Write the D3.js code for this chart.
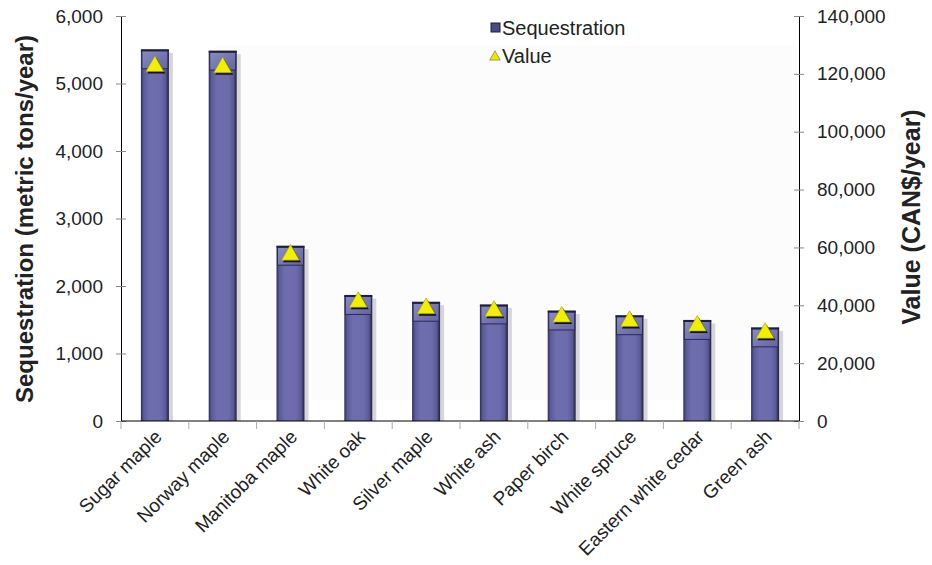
<!DOCTYPE html>
<html><head><meta charset="utf-8">
<script src="https://cdn.jsdelivr.net/npm/d3@7"></script>
<style>body{margin:0;background:#fff}svg{display:block;font-family:"Liberation Sans",Arial,sans-serif}</style>
</head><body><svg id="c" width="932" height="565"></svg>
<script>
const categories = ["Sugar maple","Norway maple","Manitoba maple","White oak","Silver maple","White ash","Paper birch","White spruce","Eastern white cedar","Green ash"];
const sequestration = [5500,5480,2590,1860,1760,1720,1630,1560,1490,1380];
const value = [122600,122200,57400,41100,38900,38000,36000,34500,32900,30400];
const leftTicks = [0,1000,2000,3000,4000,5000,6000];
const rightTicks = [0,20000,40000,60000,80000,100000,120000,140000];

const svg = d3.select("#c");
const L=121, R=799, T=16, B=421;
const x = d3.scaleBand().domain(categories).range([L,R]);
const yL = d3.scaleLinear().domain([0,6000]).range([B,T]);
const yR = d3.scaleLinear().domain([0,140000]).range([B,T]);
const fmt = d3.format(",");

const defs = svg.append("defs");
const g1 = defs.append("linearGradient").attr("id","barg");
[[0,"#2e2e58"],[0.1,"#5a5a9c"],[0.3,"#6e6eae"],[0.7,"#6c6cac"],[0.88,"#5a5a98"],[1,"#1e1e3c"]].forEach(s=>g1.append("stop").attr("offset",s[0]).attr("stop-color",s[1]));
const g2 = defs.append("linearGradient").attr("id","capg").attr("x1",0).attr("y1",0).attr("x2",1).attr("y2",1);
[[0,"#8a8ac4"],[1,"#6464a4"]].forEach(s=>g2.append("stop").attr("offset",s[0]).attr("stop-color",s[1]));

// faint plot backdrop
svg.append("rect").attr("x",215).attr("y",45).attr("width",R-215-2).attr("height",355).attr("fill","#fcfcfc");

const bw = 28;
const bars = svg.append("g");
categories.forEach((c,i)=>{
  const cx = x(c)+x.bandwidth()/2;
  const yt = yL(sequestration[i]);
  bars.append("rect").attr("x",cx-bw/2+bw).attr("y",yt+3).attr("width",4).attr("height",B-yt-3).attr("fill","#d6d6d6");
  bars.append("rect").attr("x",cx-bw/2).attr("y",yt).attr("width",bw).attr("height",B-yt).attr("fill","url(#barg)");
  bars.append("rect").attr("x",cx-bw/2+1).attr("y",yt+1).attr("width",bw-2).attr("height",18).attr("fill","url(#capg)").attr("stroke","#2a2a50").attr("stroke-width",1);
  bars.append("line").attr("x1",cx-bw/2).attr("x2",cx+bw/2).attr("y1",yt+0.5).attr("y2",yt+0.5).attr("stroke","#1e1e3c").attr("stroke-width",2);
});

// axes
const axL = svg.append("g").attr("transform",`translate(${L},0)`).call(d3.axisLeft(yL).tickValues(leftTicks).tickFormat(fmt).tickSizeInner(5).tickSizeOuter(0));
axL.selectAll(".tick line").attr("stroke","#888").attr("x2",-5).attr("x1",5);
axL.selectAll(".tick text").attr("x",-18).attr("font-size",19).attr("fill","#222");
axL.select(".domain").attr("stroke","#000");

const axR = svg.append("g").attr("transform",`translate(${R},0)`).call(d3.axisRight(yR).tickValues(rightTicks).tickFormat(fmt).tickSizeInner(5).tickSizeOuter(0));
axR.selectAll(".tick line").attr("stroke","#888").attr("x1",-5).attr("x2",5);
axR.selectAll(".tick text").attr("x",18).attr("font-size",19).attr("fill","#222");
axR.select(".domain").attr("stroke","#000");

svg.append("line").attr("x1",L).attr("x2",R).attr("y1",B).attr("y2",B).attr("stroke","#000");
const bticks = categories.map(c=>x(c)).concat([R]);
svg.append("g").selectAll("line").data(bticks).join("line").attr("x1",d=>d).attr("x2",d=>d).attr("y1",B).attr("y2",B+8).attr("stroke","#aaa");

svg.append("g").selectAll("text").data(categories).join("text")
  .attr("transform",c=>`translate(${x(c)+x.bandwidth()/2+8},${B+17}) rotate(-45)`)
  .attr("text-anchor","end").attr("font-size",19).attr("fill","#222").text(d=>d);

// markers
const tri = d3.symbol().type(d3.symbolTriangle).size(140);
const mk = svg.append("g");
categories.forEach((c,i)=>{
  const cx = x(c)+x.bandwidth()/2, cy = yR(value[i]);
  mk.append("path").attr("d",tri()).attr("transform",`translate(${cx+1.5},${cy+2})`).attr("fill","#111");
  mk.append("path").attr("d",tri()).attr("transform",`translate(${cx},${cy})`).attr("fill","#f0f000").attr("stroke","#9a9a10").attr("stroke-width",0.6);
});

// titles
svg.append("text").attr("transform","translate(33,219) rotate(-90)").attr("text-anchor","middle").attr("font-size",24).attr("font-weight","bold").attr("fill","#222").text("Sequestration (metric tons/year)");
svg.append("text").attr("transform","translate(920,217) rotate(-90)").attr("text-anchor","middle").attr("font-size",25).attr("font-weight","bold").attr("fill","#222").text("Value (CAN$/year)");

// legend
const lg = svg.append("g");
lg.append("rect").attr("x",491).attr("y",23).attr("width",9).attr("height",9).attr("fill","#4a4a8a").attr("stroke","#1e1e3c");
lg.append("text").attr("x",502).attr("y",35).attr("font-size",20).attr("fill","#222").text("Sequestration");
lg.append("path").attr("d",d3.symbol().type(d3.symbolTriangle).size(50)()).attr("transform","translate(495,57)").attr("fill","#e8e800").attr("stroke","#666").attr("stroke-width",0.6);
lg.append("text").attr("x",502).attr("y",63).attr("font-size",20).attr("fill","#222").text("Value");
</script></body></html>
